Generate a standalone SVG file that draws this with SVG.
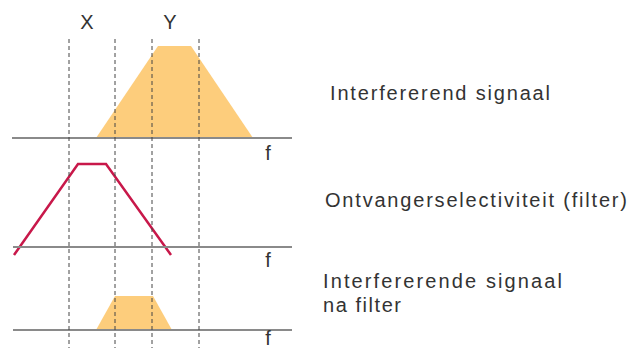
<svg xmlns="http://www.w3.org/2000/svg" width="631" height="349" viewBox="0 0 631 349">
<style>
text{font-family:"Liberation Sans",Arial,sans-serif;font-size:20px;fill:#333}
.axis{stroke:#8a8a8a;stroke-width:2;fill:none}
.dash{stroke:#444;stroke-width:1;stroke-dasharray:4,3;fill:none}
.sig{fill:#fdcd7c;stroke:none}
.filt{stroke:#c8184a;stroke-width:2.5;fill:none;stroke-linejoin:miter}
</style>
<rect width="631" height="349" fill="#fff"/>
<g id="signal-top"><polygon class="sig" points="96,138 158,46 191,46 253,138"/></g>
<g id="signal-bottom"><polygon class="sig" points="96,330 115,296 153,296 172,330"/></g>
<g id="filter"><polyline class="filt" points="14,255 78,164 106,164 171,255"/></g>
<g id="axes">
<line class="axis" x1="12" y1="138" x2="292" y2="138"/>
<line class="axis" x1="13" y1="247" x2="292" y2="247"/>
<line class="axis" x1="13" y1="330" x2="292" y2="330"/>
</g>
<g id="markers">
<line class="dash" x1="69" y1="39" x2="69" y2="348"/>
<line class="dash" x1="115" y1="39" x2="115" y2="348"/>
<line class="dash" x1="152" y1="39" x2="152" y2="348"/>
<line class="dash" x1="199" y1="39" x2="199" y2="348"/>
</g>
<g id="labels">
<text x="87" y="29" text-anchor="middle">X</text>
<text x="170" y="29" text-anchor="middle">Y</text>
<text x="268" y="160" text-anchor="middle">f</text>
<text x="268" y="267" text-anchor="middle">f</text>
<text x="268" y="345" text-anchor="middle">f</text>
<text x="330" y="100" textLength="220" lengthAdjust="spacing">Interfererend signaal</text>
<text x="325" y="207" textLength="302" lengthAdjust="spacing">Ontvangerselectiviteit (filter)</text>
<text x="323" y="288" textLength="239" lengthAdjust="spacing">Interfererende signaal</text>
<text x="323" y="312" textLength="78" lengthAdjust="spacing">na filter</text>
</g>
</svg>
